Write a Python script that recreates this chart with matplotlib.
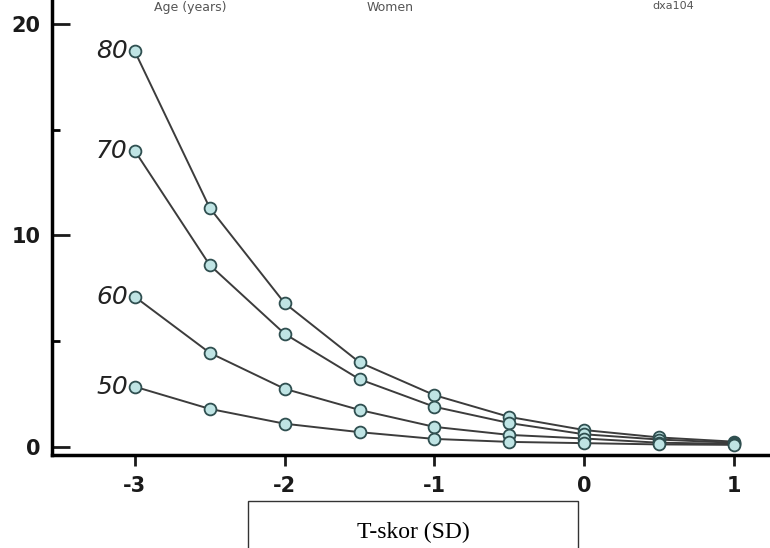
import numpy as np
import matplotlib.pyplot as plt
from matplotlib.patches import Rectangle

# T-score (SD) on the x axis, one curve per age group
t_score = [-3, -2.5, -2, -1.5, -1, -0.5, 0, 0.5, 1]
ages = ['80', '70', '60', '50']
risk_80 = [18.7, 11.3, 6.8, 4.0, 2.45, 1.42, 0.8, 0.45, 0.25]
risk_70 = [14.0, 8.6, 5.35, 3.2, 1.9, 1.13, 0.6, 0.35, 0.2]
risk_60 = [7.1, 4.45, 2.75, 1.75, 0.95, 0.57, 0.4, 0.2, 0.15]
risk_50 = [2.85, 1.8, 1.1, 0.7, 0.38, 0.24, 0.18, 0.12, 0.1]
series = [risk_80, risk_70, risk_60, risk_50]

plt.rcParams['font.family'] = ['DejaVu Sans']

fig = plt.figure(figsize=(7.7, 5.48), dpi=100)
ax = fig.add_axes([0.0675, 0.1697, 0.9325, 0.8303])

for age, vals in zip(ages, series):
    ax.plot(t_score, vals, color='#3c3c3c', lw=1.4, marker='o', ms=8.5,
            mfc='#bfe4e4', mec='#2f4f50', mew=1.3, zorder=3)
    ax.annotate(age, (t_score[0], vals[0]), xytext=(-5, 0),
                textcoords='offset points', ha='right', va='center',
                fontsize=18, style='italic', color='#222222')

ax.set_xlim(-3.553, 1.24)
ax.set_ylim(-0.38, 21.13)
ax.spines['top'].set_visible(False)
ax.spines['right'].set_visible(False)
ax.spines['left'].set_linewidth(2.5)
ax.spines['bottom'].set_linewidth(2.5)

ax.set_xticks([-3, -2, -1, 0, 1])
ax.set_xticklabels(['-3', '-2', '-1', '0', '1'])
ax.set_yticks([0, 10, 20])
ax.set_yticks([5, 15], minor=True)
ax.tick_params(axis='x', direction='out', length=8, width=2, pad=7,
               labelsize=15, colors='#1a1a1a')
ax.tick_params(axis='y', which='major', direction='in', length=13, width=2,
               pad=8, labelsize=15, colors='#1a1a1a')
ax.tick_params(axis='y', which='minor', direction='in', length=6, width=2)
for lbl in ax.get_xticklabels() + ax.get_yticklabels():
    lbl.set_fontweight('bold')

# header text from the original figure (mostly cut off there)
fig.text(190 / 770, 0.998, 'Age (years)', ha='center', va='top',
         fontsize=9, color='#555555')
fig.text(390 / 770, 0.998, 'Women', ha='center', va='top', fontsize=9,
         color='#555555')
fig.text(673 / 770, 0.998, 'dxa104', ha='center', va='top', fontsize=8,
         color='#555555')

# white box with the replacement axis label
fig.patches.append(Rectangle((248 / 770, -0.01), 330 / 770, 0.085 + 0.01,
                             transform=fig.transFigure, fc='white',
                             ec='#333333', lw=1.0))
fig.text(413 / 770, 1 - 532 / 548, 'T-skor (SD)', ha='center', va='center',
         fontsize=17, family='Liberation Serif', color='black')

plt.savefig('out.png', dpi=100)
